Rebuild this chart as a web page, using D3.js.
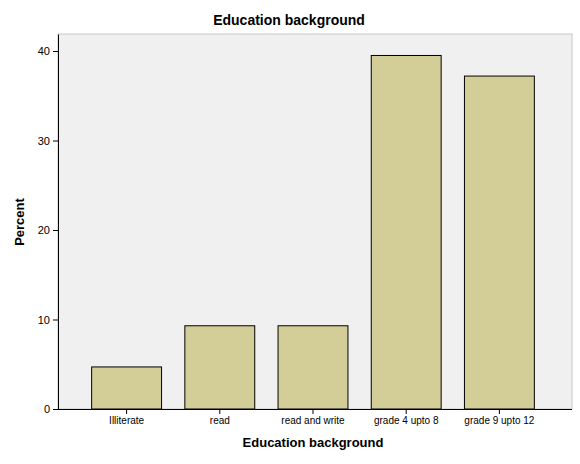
<!DOCTYPE html>
<html><head><meta charset="utf-8">
<script src="https://cdn.jsdelivr.net/npm/d3@7"></script>
<style>body{margin:0;background:#fff}</style></head>
<body><div id="chart"></div>
<script>
const categories = ["Illiterate", "read", "read and write", "grade 4 upto 8", "grade 9 upto 12"];
const percents = [4.7, 9.3, 9.3, 39.5, 37.2];
const yTicks = [0, 10, 20, 30, 40];

const W = 580, H = 464;
const plotLeft = 58, plotRight = 572, plotTop = 34, plotBottom = 409;

const svg = d3.select("#chart").append("svg").attr("width", W).attr("height", H)
  .style("font-family", "Arial, 'Liberation Sans', sans-serif");

// plot background
svg.append("rect").attr("x", plotLeft).attr("y", plotTop)
  .attr("width", plotRight - plotLeft).attr("height", plotBottom - plotTop)
  .attr("fill", "#f0f0f0").attr("stroke", "#c8c8c8");

const x = d3.scaleBand().domain(categories).range([80, 546])
  .paddingInner(0.25).paddingOuter(0.125);
const y = d3.scaleLinear().domain([0, 41.9]).range([plotBottom, plotTop]);

svg.selectAll(".bar").data(categories).enter().append("rect")
  .attr("x", d => x(d)).attr("y", (d, i) => y(percents[i]))
  .attr("width", x.bandwidth()).attr("height", (d, i) => plotBottom - y(percents[i]))
  .attr("fill", "#d3ce97").attr("stroke", "#000").attr("stroke-width", 1);

const yAxis = svg.append("g").attr("transform", `translate(${plotLeft},0)`)
  .call(d3.axisLeft(y).tickValues(yTicks).tickSize(5).tickSizeOuter(0));
yAxis.select(".domain").attr("stroke", "#000");
yAxis.selectAll("text").attr("font-size", 11).attr("fill", "#000");

const xAxis = svg.append("g").attr("transform", `translate(0,${plotBottom})`)
  .call(d3.axisBottom(x).tickSize(5).tickSizeOuter(0));
xAxis.select(".domain").attr("d", `M${plotLeft},0.5H${plotRight}`).attr("stroke", "#000");
xAxis.selectAll("text").attr("font-size", 10).attr("fill", "#000");

svg.append("text").attr("x", 289).attr("y", 25).attr("text-anchor", "middle")
  .attr("font-size", 14).attr("font-weight", "bold").text("Education background");
svg.append("text").attr("x", 313).attr("y", 447).attr("text-anchor", "middle")
  .attr("font-size", 13).attr("font-weight", "bold").text("Education background");
svg.append("text").attr("transform", "translate(24,222) rotate(-90)").attr("text-anchor", "middle")
  .attr("font-size", 13).attr("font-weight", "bold").text("Percent");
</script></body></html>
